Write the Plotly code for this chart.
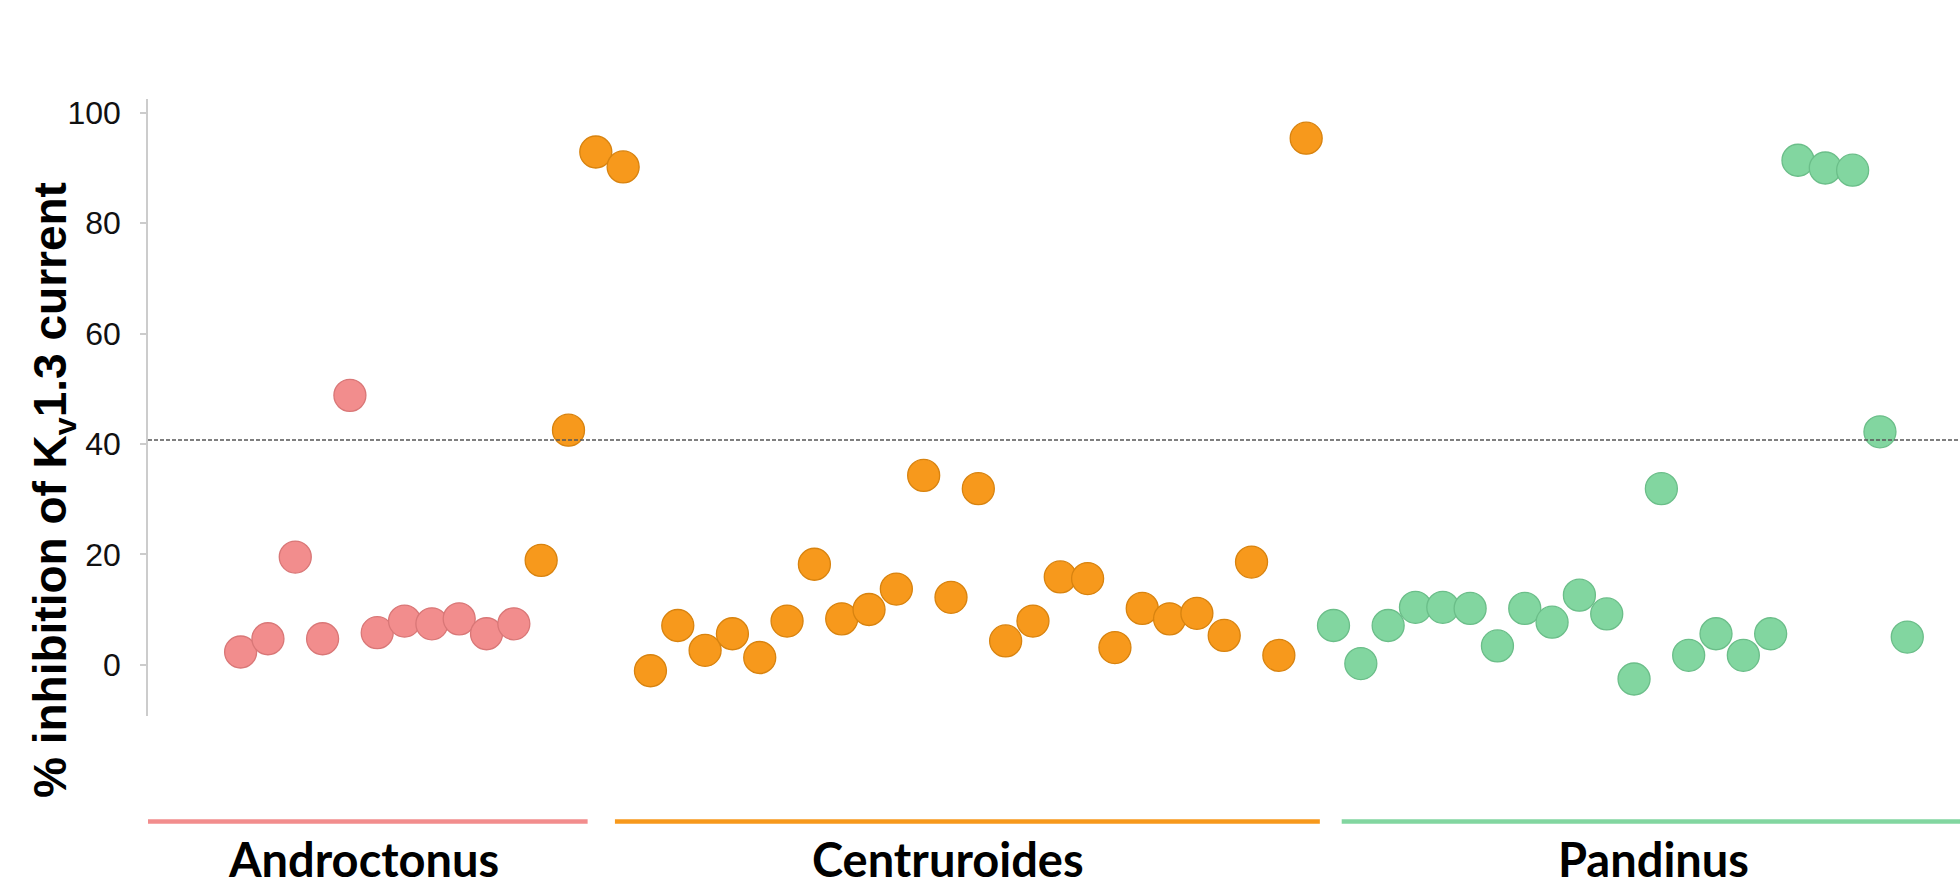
import plotly.graph_objects as go

# ---- data ----
groups = ["Androctonus", "Centruroides", "Pandinus"]
andro_vals = [2.3, 4.7, 19.5, 4.7, 48.8, 5.8, 7.9, 7.4, 8.3, 5.6, 7.4]
centru_vals = [18.9, 42.5, 92.9, 90.2, -1.1, 7.1, 2.6, 5.6, 1.3, 7.9, 18.2, 8.3, 10.0,
               13.7, 34.3, 12.2, 31.9, 4.3, 7.9, 15.9, 15.6, 3.1, 10.2, 8.3, 9.3, 5.3,
               18.6, 1.7, 95.4]
pandinus_vals = [7.1, 0.2, 7.1, 10.4, 10.4, 10.2, 3.4, 10.2, 7.7, 12.6, 9.2, -2.6, 31.9,
                 1.7, 5.6, 1.7, 5.6, 91.4, 90.0, 89.6, 42.2, 5.0]
threshold = 40.7
y_ticks = [0, 20, 40, 60, 80, 100]

# group bracket spans (in point-index units) and label centres
group_line_start = [-2.5, 14.7, 41.3]
group_line_end = [13.7, 40.5, 64.0]
group_label_x = [5.5, 26.9, 52.7]

fills = ["#F28D8D", "#F7991C", "#82D6A0"]
edges = ["#D97777", "#D8830F", "#6BBE89"]
line_cols = ["#F28D8D", "#F7991C", "#82D6A0"]

series = [andro_vals, centru_vals, pandinus_vals]

W, H = 1960, 882
ML, MR, MT, MB = 148, 0, 99, 166

fig = go.Figure()
start = 1
for vals, fc, ec, name in zip(series, fills, edges, groups):
    xs = list(range(start, start + len(vals)))
    start += len(vals)
    fig.add_trace(go.Scatter(
        x=xs, y=vals, mode="markers", name=name,
        marker=dict(size=32, color=fc, line=dict(color=ec, width=1.3)),
        showlegend=False,
    ))

# threshold dashed line
fig.add_shape(type="line", xref="paper", x0=0, x1=1, yref="y", y0=threshold, y1=threshold,
              line=dict(color="#555555", width=1.5, dash="4px,2px"), layer="above")

# group bracket lines and labels
for g, x0, x1, xc, lc in zip(groups, group_line_start, group_line_end, group_label_x, line_cols):
    fig.add_shape(type="line", xref="x", yref="paper", x0=x0, x1=x1, y0=-0.171, y1=-0.171,
                  line=dict(color=lc, width=4.5))
    fig.add_annotation(x=xc, xref="x", y=-0.232, yref="paper", text=g, showarrow=False,
                       xanchor="center", yanchor="middle",
                       font=dict(family="Lato", size=47, color="black", weight="bold"))

# y-axis title as annotation
fig.add_annotation(x=(53 - ML) / (W - ML - MR), xref="paper",
                   y=1 - (490 - MT) / (H - MT - MB), yref="paper",
                   text="% inhibition of K<sub>v</sub>1.3 current", showarrow=False,
                   textangle=-90, xanchor="center", yanchor="middle",
                   font=dict(family="Liberation Sans", size=46, color="black", weight="bold"))

fig.update_layout(
    width=W, height=H,
    margin=dict(l=ML, r=MR, t=MT, b=MB),
    plot_bgcolor="white", paper_bgcolor="white",
    xaxis=dict(range=[-2.39, 63.93], visible=False, showgrid=False, zeroline=False),
    yaxis=dict(range=[-9.3, 102.5], tickvals=y_ticks, showgrid=False, zeroline=False,
               showline=True, linecolor="#CCCCCC", linewidth=1.5,
               ticks="outside", ticklen=6, tickcolor="#CCCCCC", tickwidth=1.5,
               ticklabelstandoff=13, automargin=False,
               tickfont=dict(family="Liberation Sans", size=32, color="#111111")),
)

fig.write_html("out.html", config={"displayModeBar": False},
               post_script="document.body.style.margin='0';document.body.style.padding='0';")
